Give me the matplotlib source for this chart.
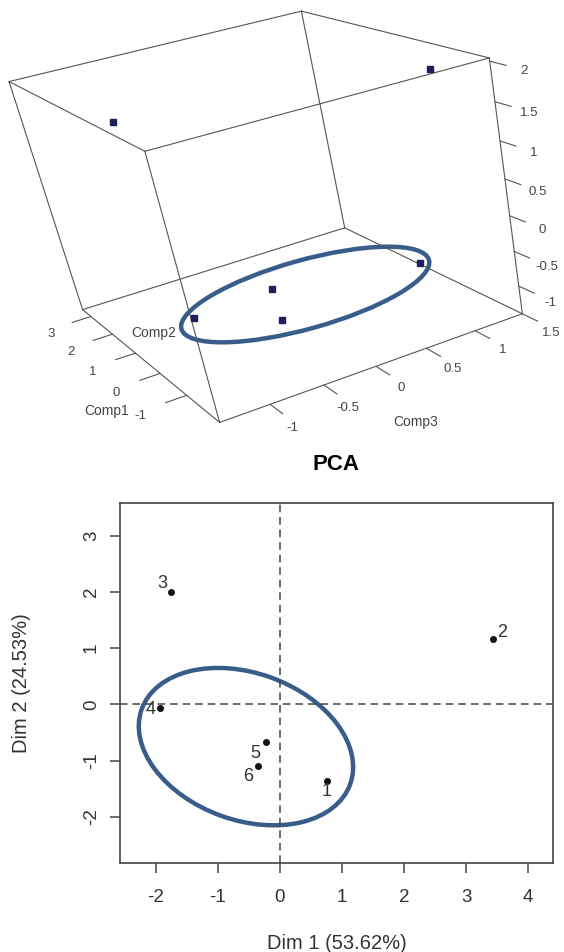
import numpy as np
import matplotlib as mpl
import matplotlib.pyplot as plt
from matplotlib.patches import Ellipse
from matplotlib.transforms import ScaledTranslation

plt.rcParams['font.family'] = ['Liberation Sans', 'DejaVu Sans']
plt.rcParams['axes.unicode_minus'] = False

# individual factor map (Dim 1 / Dim 2)
ind_labels = ['1', '2', '3', '4', '5', '6']
dim1 = [0.76, 3.43, -1.75, -1.93, -0.22, -0.35]
dim2 = [-1.37, 1.16, 2.00, -0.07, -0.67, -1.09]
dim1_ticks = [-2, -1, 0, 1, 2, 3, 4]
dim2_ticks = [-2, -1, 0, 1, 2, 3]

# 3-D scores for the cloud plot
comp1 = [0.76, 3.43, -1.75, -1.93, -0.22, -0.35]
comp2 = [-1.37, 1.16, 2.00, -0.07, -0.67, -1.09]
comp3 = [1.49, -0.63, 1.08, -1.39, -0.31, -0.31]
comp1_ticks = [-1, 0, 1, 2, 3]
comp2_ticks = [-1, -0.5, 0, 0.5, 1, 1.5, 2]
comp3_ticks = [-1, -0.5, 0, 0.5, 1, 1.5]

# box limits of the cloud
lim1 = (-2.14, 3.41)
lim3 = (-1.455, 1.50)
lim2 = (-1.41, 2.04)

# screen position (px) of the 8 box corners, used to fit the camera
corner_px = {
    (0, 0, 0): (219.4, 422.7),
    (1, 0, 0): (82.7, 309.3),
    (0, 1, 0): (522.5, 313.3),
    (1, 1, 0): (344.6, 228.3),
    (0, 0, 1): (145.0, 151.5),
    (1, 0, 1): (9.0, 81.5),
    (0, 1, 1): (489.2, 58.0),
    (1, 1, 1): (301.4, 11.0),
}

BOX = '#555555'
TXT = '#444444'
RING = '#385D8A'


def fit_camera(world, screen):
    # plain DLT with normalisation
    world = np.asarray(world, float)
    screen = np.asarray(screen, float)
    mw, sw = world.mean(0), world.std()
    ms, ss = screen.mean(0), screen.std()
    Tw = np.diag([1 / sw] * 3 + [1.0])
    Tw[:3, 3] = -mw / sw
    Ts = np.diag([1 / ss] * 2 + [1.0])
    Ts[:2, 2] = -ms / ss
    W = (Tw @ np.c_[world, np.ones(len(world))].T).T
    S = (Ts @ np.c_[screen, np.ones(len(screen))].T).T
    rows = []
    for X, (u, v, _) in zip(W, S):
        rows.append(np.r_[X, np.zeros(4), -u * X])
        rows.append(np.r_[np.zeros(4), X, -v * X])
    _, _, vt = np.linalg.svd(np.array(rows))
    P = vt[-1].reshape(3, 4)
    return np.linalg.inv(Ts) @ P @ Tw


def project(P, c1, c3, c2):
    X = np.c_[np.ravel(c1), np.ravel(c3), np.ravel(c2), np.ones(np.size(c1))]
    p = P @ X.T
    return p[0] / p[2], p[1] / p[2]


world, screen = [], []
for (i, j, k), px in corner_px.items():
    world.append((lim1[i], lim3[j], lim2[k]))
    screen.append(px)
P = fit_camera(world, screen)

fig = plt.figure(figsize=(5.64, 9.52), dpi=100)

# ---------------- bottom: factor map ----------------
ax = fig.add_axes([120 / 564, 1 - 863 / 952, 433 / 564, 360 / 952])
ax.set_xlim(-2.575, 4.40)
ax.set_ylim(-2.82, 3.58)
ax.axhline(0, ls=(0, (5, 3.2)), color='#444444', lw=1.1)
ax.axvline(0, ls=(0, (5, 3.2)), color='#444444', lw=1.1)
ax.plot(dim1, dim2, 'o', ms=4, color='#111111')
lab_off = [(0, -7.5), (6.5, 5), (-6.5, 5.8), (-6.5, -0.7), (-8, -8), (-7.2, -8)]
for lab, x, y, off in zip(ind_labels, dim1, dim2, lab_off):
    ax.annotate(lab, (x, y), xytext=off, textcoords='offset points',
                ha='center', va='center', fontsize=13, color='#333333')
ax.set_xticks(dim1_ticks)
ax.set_yticks(dim2_ticks)
ax.set_yticklabels([str(t) for t in dim2_ticks], rotation=90, va='center')
ax.tick_params(length=7.5, width=1.1, colors='#444444', labelsize=13.5,
               labelcolor='#333333')
ax.tick_params(axis='x', pad=11.5)
ax.tick_params(axis='y', pad=7)
for s in ax.spines.values():
    s.set_color('#444444')
    s.set_linewidth(1.2)
ax.set_xlabel('Dim 1 (53.62%)', fontsize=14.5, color='#333333', labelpad=20)
ax.set_ylabel('Dim 2 (24.53%)', fontsize=14.5, color='#333333', labelpad=37)
ax.set_title('PCA', fontsize=16, fontweight='bold', pad=24)

ell = Ellipse((0, 0), 2.216, 1.47, angle=-19.8, fill=False, ec=RING, lw=3.2,
              transform=fig.dpi_scale_trans + ScaledTranslation(-0.546, -0.751, ax.transData))
ax.add_patch(ell)

# ---------------- top: 3-D cloud (screen px) ----------------
ax3 = fig.add_axes([0, 1 - 460 / 952, 1, 460 / 952])
ax3.set_xlim(0, 564)
ax3.set_ylim(460, 0)
ax3.axis('off')

edges = []
for a in range(2):
    for b in range(2):
        edges.append(((0, a, b), (1, a, b)))
        edges.append(((a, 0, b), (a, 1, b)))
        edges.append(((a, b, 0), (a, b, 1)))
for p0, p1 in edges:
    uu, vv = project(P, [lim1[p0[0]], lim1[p1[0]]],
                     [lim3[p0[1]], lim3[p1[1]]],
                     [lim2[p0[2]], lim2[p1[2]]])
    ax3.plot(uu, vv, color=BOX, lw=0.8)

L1 = 0.07 * (lim1[1] - lim1[0])
L3 = 0.065 * (lim3[1] - lim3[0])
for t in comp1_ticks:
    uu, vv = project(P, [t, t], [lim3[0], lim3[0] - L3], [lim2[0]] * 2)
    ax3.plot(uu, vv, color=BOX, lw=0.8)
    uu, vv = project(P, t, lim3[0] - 2.4 * L3, lim2[0])
    ax3.text(uu[0] + 5, vv[0] + 3, '%g' % t, ha='center', va='center',
             fontsize=9.5, color=TXT)
for t in comp3_ticks:
    uu, vv = project(P, [lim1[0], lim1[0] - L1], [t, t], [lim2[0]] * 2)
    ax3.plot(uu, vv, color=BOX, lw=0.8)
    uu, vv = project(P, lim1[0] - 2.5 * L1, t, lim2[0])
    ax3.text(uu[0] - 10, vv[0], '%g' % t, ha='center', va='center',
             fontsize=9.5, color=TXT)
for t in comp2_ticks:
    uu, vv = project(P, [lim1[0], lim1[0] - L1], [lim3[1]] * 2, [t, t])
    ax3.plot(uu, vv, color=BOX, lw=0.8)
    uu, vv = project(P, lim1[0] - 2.3 * L1, lim3[1], t)
    ax3.text(uu[0] - 4, vv[0], '%g' % t, ha='center', va='center',
             fontsize=9.5, color=TXT)

ax3.text(106.7, 410.7, 'Comp1', ha='center', va='center', fontsize=10, color=TXT)
ax3.text(153.3, 333.3, 'Comp2', ha='center', va='center', fontsize=10, color=TXT)
ax3.text(415.5, 421.7, 'Comp3', ha='center', va='center', fontsize=10, color=TXT)

uu, vv = project(P, comp1, comp3, comp2)
ax3.plot(uu, vv, 's', ms=3.8, color='#1f1f5c', ls='none')

ax3.add_patch(Ellipse((305.2, 294.5), 257, 68.6, angle=-15.6, fill=False,
                      ec=RING, lw=3.2))

fig.savefig('out.png', dpi=100)
